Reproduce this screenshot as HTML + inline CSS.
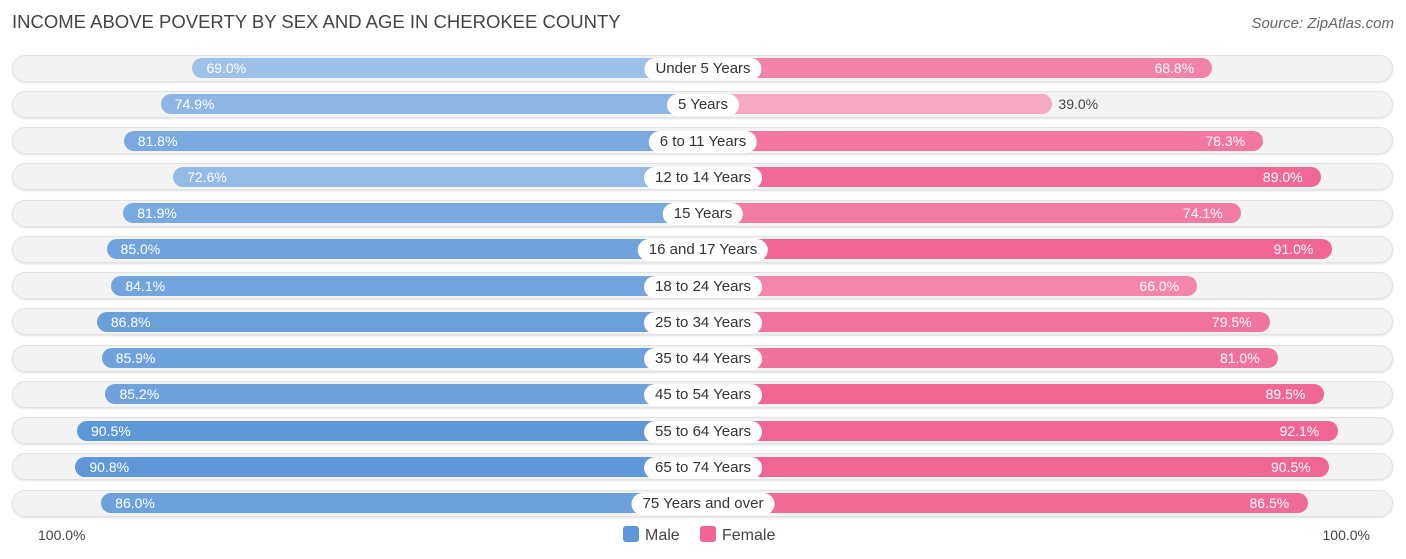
<!DOCTYPE html>
<html><head><meta charset="utf-8"><style>
body{margin:0;background:#fff;font-family:"Liberation Sans",sans-serif;}
#c{position:relative;width:1406px;height:559px;overflow:hidden}
.t{position:absolute;left:12px;top:11px;font-size:18.5px;color:#444}
.s{position:absolute;right:12px;top:15px;font-size:15px;color:#666;font-style:italic}
.track{position:absolute;left:12px;width:1381px;height:27px;border-radius:14px;background:#f3f3f3;box-shadow:inset 0 0 0 1px #e2e2e2,0 1px 2px rgba(0,0,0,.12)}
.bar{position:absolute;height:20px;border-radius:10px}
.v{position:absolute;font-size:14px;line-height:20px}
.lab{position:absolute;height:22px;line-height:22px;font-size:15px;color:#333;background:#fff;border-radius:11px;padding:0 11px;transform:translateX(-50%);white-space:nowrap}
.ax{position:absolute;top:527px;font-size:14px;color:#444}
.leg{position:absolute;top:526px;font-size:16px;color:#444}
.sw{display:inline-block;width:16px;height:16px;border-radius:3px;vertical-align:-2px;margin-right:6px}
</style></head><body><div id="c">
<div class="t">INCOME ABOVE POVERTY BY SEX AND AGE IN CHEROKEE COUNTY</div>
<div class="s">Source: ZipAtlas.com</div>
<div id="rows"></div>
<div class="ax" style="left:38px">100.0%</div>
<div class="ax" style="right:36px">100.0%</div>
<div class="leg" style="left:623px"><span class="sw" style="background:#5e97d7"></span>Male</div>
<div class="leg" style="left:700px"><span class="sw" style="background:#f06593"></span>Female</div>
</div>
<script>
const categories=["Under 5 Years","5 Years","6 to 11 Years","12 to 14 Years","15 Years","16 and 17 Years","18 to 24 Years","25 to 34 Years","35 to 44 Years","45 to 54 Years","55 to 64 Years","65 to 74 Years","75 Years and over"];
const male=[69.0,74.9,81.8,72.6,81.9,85.0,84.1,86.8,85.9,85.2,90.5,90.8,86.0];
const female=[68.8,39.0,78.3,89.0,74.1,91.0,66.0,79.5,81.0,89.5,92.1,90.5,86.5];
const CX=703,OFF=140,PER=5.37,Y0=68,STEP=36.25;
function xs(v){return OFF+v*PER;}
function mix(a,b,t){return 'rgb('+a.map((x,i)=>Math.round(x+(b[i]-x)*t)).join(',')+')';}
const rows=document.getElementById('rows');
categories.forEach((cat,i)=>{
  const y=Y0+i*STEP;
  const tr=document.createElement('div');tr.className='track';tr.style.top=(y-13.5)+'px';
  
  
  rows.appendChild(tr);
  const tm=Math.max(0,Math.min(1,(male[i]-65)/26));
  const mb=document.createElement('div');mb.className='bar';
  const mw=xs(male[i]);
  mb.style.left=(CX-mw)+'px';mb.style.width=mw+'px';mb.style.top=(y-10)+'px';
  mb.style.background=mix([170,201,236],[94,151,215],tm);
  
  
  rows.appendChild(mb);
  const mv=document.createElement('div');mv.className='v';mv.textContent=male[i].toFixed(1)+'%';
  mv.style.color='#fff';mv.style.left=(CX-mw+14)+'px';mv.style.top=(y-10)+'px';
  
  
  rows.appendChild(mv);
  const tf=Math.max(0,Math.min(1,(female[i]-35)/56));
  const fb=document.createElement('div');fb.className='bar';
  const fw=xs(female[i]);
  fb.style.left=CX+'px';fb.style.width=fw+'px';fb.style.top=(y-10)+'px';
  fb.style.background=mix([248,174,200],[240,101,147],tf);
  
  
  rows.appendChild(fb);
  const fv=document.createElement('div');fv.className='v';fv.textContent=female[i].toFixed(1)+'%';
  
  
  fv.style.top=(y-10)+'px';
  if(female[i]<50){fv.style.color='#444';fv.style.left=(CX+fw+6)+'px';}
  else{fv.style.color='#fff';fv.style.left=(CX+fw-14-44)+'px';}
  rows.appendChild(fv);
  const lb=document.createElement('div');lb.className='lab';lb.textContent=cat;
  lb.style.left=CX+'px';lb.style.top=(y-10)+'px';
  
  
  rows.appendChild(lb);
});
</script></body></html>
